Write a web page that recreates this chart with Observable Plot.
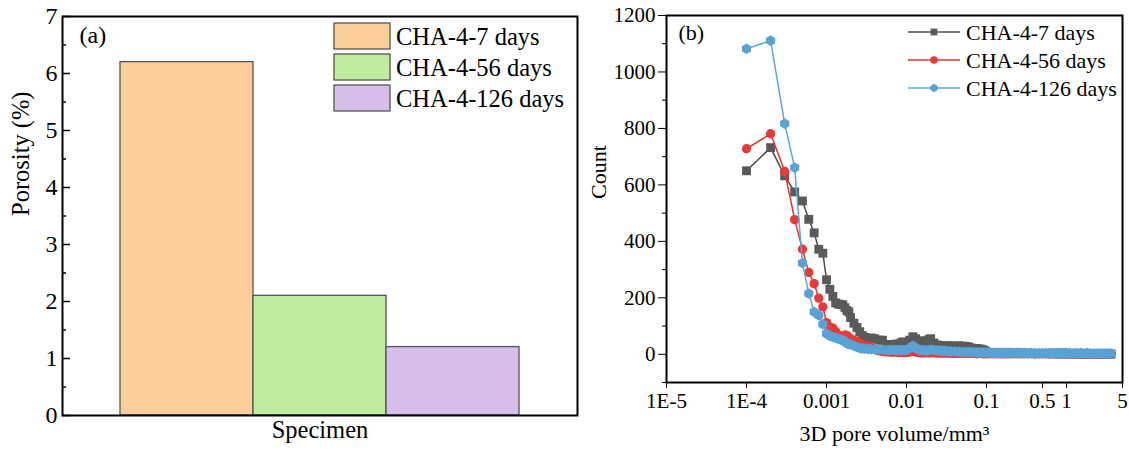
<!DOCTYPE html>
<html><head><meta charset="utf-8">
<script src="https://cdn.jsdelivr.net/npm/d3@7"></script>
<script src="https://cdn.jsdelivr.net/npm/@observablehq/plot@0.6"></script>
<style>
html,body{margin:0;padding:0;background:#fff;}
#wrap{position:relative;width:1129px;height:453px;font-family:"Liberation Serif","Times New Roman",serif;}
#wrap > svg{position:absolute;top:0;}
</style></head><body><div id="wrap"></div>
<script>
// ---------- Panel (a) data ----------
const specimens = ["CHA-4-7 days", "CHA-4-56 days", "CHA-4-126 days"];
const porosity = [6.2, 2.1, 1.2];
const barColors = ["#fecd9c", "#c0ec9f", "#d8bfeb"];
const porosityTicks = [0, 1, 2, 3, 4, 5, 6, 7];
const porosityMinor = [0.5, 1.5, 2.5, 3.5, 4.5, 5.5, 6.5];

// ---------- Panel (b) data ----------
const poreVolume = [
  1e-4, 2e-4, 3e-4, 4e-4, 5e-4, 6e-4, 7e-4, 8e-4, 9e-4, 1e-3,
  1.1e-3, 1.2e-3, 1.3e-3, 1.4e-3, 1.5e-3, 1.6e-3, 1.7e-3, 1.8e-3, 1.9e-3, 2e-3,
  2.2e-3, 2.4e-3, 2.6e-3, 2.8e-3, 3e-3, 3.3e-3, 3.6e-3, 4e-3, 4.5e-3, 5e-3,
  5.5e-3, 6e-3, 6.5e-3, 7e-3, 7.5e-3, 8e-3, 8.5e-3, 9e-3, 9.5e-3, 0.01,
  0.011, 0.012, 0.013, 0.014, 0.015, 0.016, 0.017, 0.018, 0.019, 0.02,
  0.022, 0.024, 0.026, 0.028, 0.03, 0.033, 0.036, 0.04, 0.045, 0.05,
  0.055, 0.06, 0.065, 0.07, 0.075, 0.08, 0.085, 0.09, 0.095, 0.1,
  0.11, 0.12, 0.13, 0.14, 0.15, 0.16, 0.17, 0.18, 0.19, 0.2,
  0.22, 0.24, 0.26, 0.28, 0.3, 0.33, 0.36, 0.4, 0.45, 0.5,
  0.55, 0.6, 0.65, 0.7, 0.75, 0.8, 0.85, 0.9, 0.95, 1,
  1.1, 1.2, 1.3, 1.4, 1.5, 1.6, 1.7, 1.8, 1.9, 2,
  2.2, 2.4, 2.6, 2.8, 3, 3.2, 3.4, 3.6
];
const count7 = [
  650, 732, 632, 575, 543, 478, 430, 372, 358, 264,
  230, 205, 182, 178, 176, 175, 165, 155, 150, 130,
  110, 95, 80, 66, 60, 55, 58, 55, 50, 50,
  34, 33, 34, 35, 36, 36, 40, 44, 42, 40,
  50, 62, 55, 48, 45, 46, 45, 48, 52, 55,
  40, 33, 31, 30, 30, 30, 30, 29, 30, 29,
  28, 26, 22, 20, 20, 19, 18, 16, 12, 8,
  6, 6, 5, 6, 5, 5, 4, 5, 4, 4,
  4, 4, 3, 4, 3, 3, 3, 3, 2, 3,
  3, 2, 3, 2, 2, 3, 2, 2, 2, 2,
  2, 2, 1, 2, 2, 1, 2, 1, 1, 2,
  1, 2, 1, 1, 1, 2, 1, 1
];
const count56 = [
  728, 781, 648, 477, 372, 290, 250, 199, 168, 112,
  97, 92, 80, 68, 62, 64, 68, 66, 58, 55,
  50, 45, 38, 32, 30, 28, 25, 18, 12, 10,
  8, 8, 7, 8, 7, 6, 7, 6, 6, 6,
  8, 14, 8, 6, 5, 5, 5, 6, 5, 5,
  5, 4, 4, 4, 4, 4, 3, 3, 3, 3,
  3, 3, 3, 3, 2, 3, 3, 2, 2, 2,
  2, 2, 2, 2, 2, 2, 2, 2, 2, 2,
  2, 2, 2, 2, 2, 2, 2, 1, 2, 2,
  2, 1, 2, 2, 1, 2, 1, 2, 1, 1,
  1, 1, 1, 1, 1, 1, 1, 1, 1, 1,
  1, 1, 1, 1, 1, 1, 1, 1
];
const count126 = [
  1082, 1111, 817, 661, 323, 215, 150, 138, 106, 73,
  65, 61, 58, 55, 52, 50, 45, 38, 36, 35,
  30, 25, 22, 20, 20, 19, 18, 17, 16, 16,
  15, 15, 15, 15, 15, 15, 15, 15, 15, 15,
  22, 30, 22, 17, 15, 14, 14, 13, 14, 16,
  15, 14, 13, 12, 12, 11, 10, 10, 9, 8,
  8, 8, 7, 7, 7, 6, 6, 6, 6, 6,
  5, 5, 5, 5, 5, 5, 5, 5, 5, 5,
  5, 5, 5, 4, 5, 4, 5, 4, 4, 4,
  4, 4, 4, 4, 4, 4, 4, 4, 4, 4,
  4, 3, 4, 3, 4, 3, 3, 4, 3, 3,
  3, 3, 3, 3, 3, 3, 3, 3
];
const seriesNames = ["CHA-4-7 days", "CHA-4-56 days", "CHA-4-126 days"];
const xTicks = [1e-5, 1e-4, 1e-3, 0.01, 0.1, 0.5, 1, 5];
const xTickLabels = ["1E-5", "1E-4", "0.001", "0.01", "0.1", "0.5", "1", "5"];
const yTicks = [0, 200, 400, 600, 800, 1000, 1200];
const yMinor = [-100, 100, 300, 500, 700, 900, 1100];

// ---------- styles ----------
const FONT = "Liberation Serif, Times New Roman, serif";
const lineColors = ["#4a4a4a", "#e8302d", "#5ea6d8"];
const markColors = ["#5a5a5a", "#e83a38", "#5aa2d4"];

const hexagon = {
  draw(context, size) {
    const R = Math.sqrt(size / (3 * Math.sqrt(3) / 2));
    for (let i = 0; i < 6; i++) {
      const a = -Math.PI / 2 + i * Math.PI / 3;
      const px = R * Math.cos(a), py = R * Math.sin(a);
      if (i === 0) context.moveTo(px, py); else context.lineTo(px, py);
    }
    context.closePath();
  }
};
const symbols = ["square", "circle", hexagon];
const radii = [5.0, 4.7, 4.8];

const wrap = document.getElementById("wrap");

// ---------- Panel (a) ----------
const barData = specimens.map((s, i) => ({s, v: porosity[i], c: barColors[i]}));
const plotA = Plot.plot({
  width: 585, height: 453,
  marginLeft: 62, marginRight: 8, marginTop: 16, marginBottom: 38,
  style: {fontFamily: FONT, fontSize: "24px", color: "black", background: "transparent", overflow: "visible"},
  x: {type: "band", domain: specimens, paddingInner: 0, paddingOuter: 0.436, axis: null},
  y: {domain: [0, 7], axis: null},
  marks: [
    Plot.barY(barData, {x: "s", y: "v", fill: "c", stroke: "#555", strokeWidth: 1.3}),
    Plot.ruleY(porosityTicks, {y: d => d, insetRight: 507, stroke: "black", strokeWidth: 1.5}),
    Plot.ruleY(porosityMinor, {y: d => d, insetRight: 511, stroke: "black", strokeWidth: 1.5}),
    Plot.axisY(porosityTicks, {tickSize: 0, tickPadding: 5, tickFormat: d => String(d), label: null, fontSize: 24}),
    Plot.frame({stroke: "black", strokeWidth: 2}),
    Plot.text(["(a)"], {text: d => d, frameAnchor: "top-left", textAnchor: "start", lineAnchor: "top", dx: 17, dy: 9, fontSize: 24}),
    Plot.text(["Porosity (%)"], {text: d => d, frameAnchor: "left", rotate: -90, dx: -41, fontSize: 24.5}),
    Plot.text(["Specimen"], {text: d => d, frameAnchor: "bottom", dy: 22, fontSize: 24.5})
  ]
});
plotA.style.left = "0px";
wrap.appendChild(plotA);

// ---------- Panel (b) ----------
const allCounts = [count7, count56, count126];
const seriesData = allCounts.map((arr, k) => poreVolume.map((x, i) => ({x, y: arr[i], name: seriesNames[k]})));
const labelMap = new Map(xTicks.map((t, i) => [t, xTickLabels[i]]));
const marksB = [];
seriesData.forEach((data, k) => {
  marksB.push(Plot.line(data, {x: "x", y: "y", stroke: lineColors[k], strokeWidth: 1.5}));
  marksB.push(Plot.dot(data, {x: "x", y: "y", symbol: symbols[k], r: radii[k], fill: markColors[k], stroke: "none"}));
});
const plotB = Plot.plot({
  width: 544, height: 453,
  marginLeft: 81, marginRight: 7, marginTop: 15, marginBottom: 71,
  style: {fontFamily: FONT, fontSize: "21px", color: "black", background: "transparent", overflow: "visible"},
  x: {type: "log", domain: [1e-5, 5], axis: null},
  y: {domain: [-100, 1200], axis: null},
  marks: [
    ...marksB,
    Plot.axisX(xTicks, {tickSize: 6, tickFormat: () => "", label: null}),
    Plot.text(xTicks, {x: d => d, text: d => labelMap.get(d), frameAnchor: "bottom", lineAnchor: "top", dy: 11, fontSize: 21}),
    Plot.axisY(yTicks, {tickSize: 8, tickPadding: 3, tickFormat: d => String(d), label: null, fontSize: 21}),
    Plot.axisY(yMinor, {tickSize: 4, tickFormat: () => "", label: null}),
    Plot.frame({stroke: "black", strokeWidth: 2}),
    Plot.text(["(b)"], {text: d => d, frameAnchor: "top-left", textAnchor: "start", lineAnchor: "top", dx: 12, dy: 9, fontSize: 22}),
    Plot.text(["Count"], {text: d => d, frameAnchor: "left", rotate: -90, dx: -68, fontSize: 22}),
    Plot.text(["3D pore volume/mm³"], {text: d => d, frameAnchor: "bottom", dy: 58, fontSize: 22})
  ]
});
plotB.style.left = "585px";
wrap.appendChild(plotB);

// ---------- Legends (overlay) ----------
const leg = d3.select(wrap).append("svg")
  .attr("width", 1129).attr("height", 453)
  .style("left", "0px").style("pointer-events", "none")
  .style("font-family", FONT);

// panel (a) legend
specimens.forEach((s, i) => {
  const y0 = 23 + i * 31;
  leg.append("rect").attr("x", 334).attr("y", y0).attr("width", 56).attr("height", 26)
    .attr("fill", barColors[i]).attr("stroke", "#555").attr("stroke-width", 1.3);
  leg.append("text").attr("x", 396).attr("y", y0 + 13).attr("dy", "0.35em")
    .attr("font-size", 24.5).attr("fill", "black").text(s);
});

// panel (b) legend
seriesNames.forEach((s, i) => {
  const y0 = 32 + i * 28;
  leg.append("line").attr("x1", 908).attr("x2", 960).attr("y1", y0).attr("y2", y0)
    .attr("stroke", lineColors[i]).attr("stroke-width", 1.5);
  const sym = i === 0 ? d3.symbolSquare : i === 1 ? d3.symbolCircle : hexagon;
  leg.append("path").attr("transform", `translate(934,${y0})`)
    .attr("d", d3.symbol(sym, Math.PI * 3.8 * 3.8)())
    .attr("fill", markColors[i]);
  leg.append("text").attr("x", 966).attr("y", y0).attr("dy", "0.35em")
    .attr("font-size", 22).attr("fill", "black").text(s);
});
</script></body></html>
